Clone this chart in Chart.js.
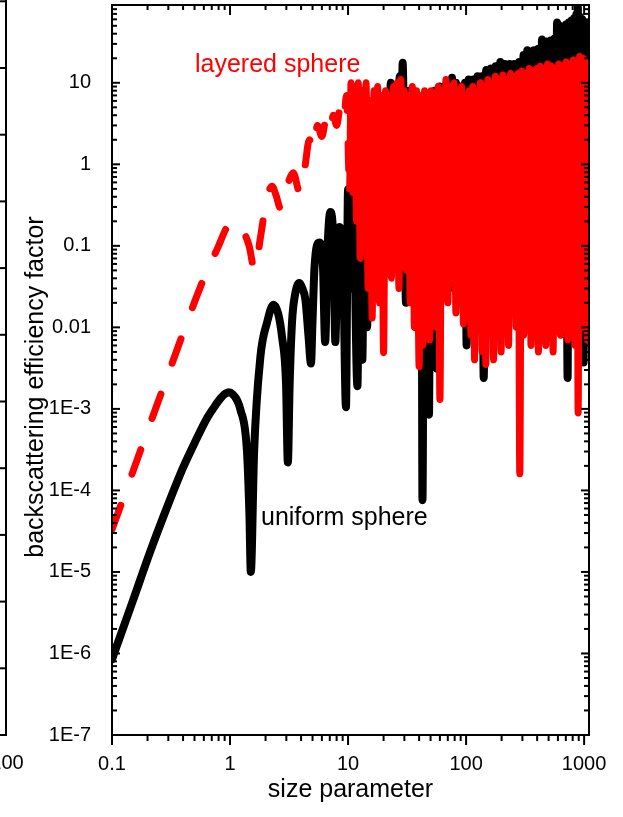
<!DOCTYPE html>
<html>
<head>
<meta charset="utf-8">
<script src="https://cdn.jsdelivr.net/npm/chart.js@4"></script>
<style>
  body { margin: 0; background: #fff; }
</style>
</head>
<body>
<canvas id="chart" width="623" height="817"></canvas>
<script>
// uniform sphere (black, solid)
var uniformX = [
  0.1, 0.15, 0.21, 0.3, 0.4, 0.5, 0.645, 0.75, 0.83, 0.92, 0.98, 1.06, 1.14, 1.22, 1.39, 1.46, 1.5,
  1.6, 1.81, 2.06, 2.33, 2.55, 2.76, 2.98, 3.09, 3.2, 3.35, 3.57, 3.86, 4.1, 4.35, 4.63, 4.85,
  5.0, 5.2, 5.7, 6.1, 6.4, 6.7, 7.08, 7.55, 7.8, 8.1, 8.4, 9.0, 9.6, 10, 10.5, 11, 12,
  12.6, 13.2, 13.8, 14.5, 15.1, 15.8, 16.6, 17.4, 18.2, 19, 19.9, 20.8, 21.6, 22.3, 23, 23.9,
  25, 26.2, 27.4, 28.2, 29, 31, 32.9, 34.4, 36, 37.7, 39.5, 41, 41.8, 42.7, 44.3, 46, 47.3, 48.5,
  50, 52, 54, 56.8, 59.5, 62.2, 65, 68, 71.4, 74, 76, 79, 82, 86, 90, 94, 98, 101, 105, 110,
  115, 120, 125, 130, 136, 141, 148, 155, 162, 170, 178, 186, 195, 204, 213, 223, 234, 245,
  256, 268, 281, 294, 307, 322, 330, 345, 352, 360, 375, 390, 405, 420, 440, 460, 480, 500,
  520, 540, 560, 575, 590, 605, 620, 640, 660, 680, 700, 725, 740, 760, 780, 800, 820, 840,
  860, 875, 885, 900, 920, 945, 965, 990, 1010, 1030, 1050, 1070, 1090
];
var uniformY = [
  8.5e-7, 4.4e-6, 1.75e-5, 6.8e-5, 1.9e-4, 3.8e-4, 7.9e-4, 1.1e-3, 1.35e-3, 1.55e-3, 1.6e-3, 1.5e-3, 1.3e-3, 1e-3, 3.1e-4, 5e-5, 1e-5,
  3e-4, 4.4e-3, 0.0115, 0.019, 0.015, 7.6e-3, 2.1e-3, 2.2e-4, 2e-3, 0.0115, 0.026, 0.035, 0.03, 0.022, 7.6e-3, 3.6e-3,
  0.012, 0.055, 0.11, 0.068, 6.6e-3, 0.09, 0.26, 0.09, 6.6e-3, 0.068, 0.17, 0.11, 1.05e-3, 0.49, 0.03, 0.6, 1.9e-3,
  0.8, 0.004, 1.2, 0.01, 1.5, 0.03, 2, 0.05, 3, 0.04, 4, 0.08, 5, 0.17, 10, 0.3,
  8, 0.1, 12, 0.3, 17.6, 0.02, 8, 0.03, 7, 0.01, 6, 0.01, 5, 7.6e-5, 7, 0.03, 6, 8.5e-4,
  7, 0.05, 8, 3.1e-3, 9, 0.03, 9, 0.05, 10, 0.04, 11.5, 0.03, 10, 0.02, 9, 0.03, 10, 6e-3, 11, 0.02,
  11, 0.03, 12, 0.02, 12, 2.4e-3, 14.4, 0.02, 15, 0.03, 16, 0.02, 18, 0.04, 17, 0.02, 17, 0.03,
  17, 0.02, 18, 0.04, 22, 0.02, 25, 0.03, 24, 8.5e-3, 25, 0.03, 26, 0.02, 34, 0.03, 32, 0.02,
  33, 0.03, 35, 0.02, 55, 0.03, 50, 0.02, 48, 0.03, 52, 2.4e-3, 55, 0.02, 58, 0.03, 62, 0.02,
  70, 0.03, 85, 0.02, 65, 0.03, 60, 3.7e-3, 55, 0.02, 50, 0.03, 45
];

// layered sphere (red, dashed)
var layeredX = [
  0.1, 0.3, 0.6, 0.8, 0.92, 1.02, 1.15, 1.3, 1.45, 1.62, 1.8, 1.95, 2.15, 2.27, 2.45, 2.7, 3.0,
  3.43, 3.9, 4.3, 4.7, 5.1, 5.5, 6.0, 6.5, 7.0, 7.5, 8.0, 8.6, 9.2, 9.7,
  10.3, 10.6, 11, 11.4, 11.8, 12.2, 12.7, 13.2, 13.7, 14.2, 14.8, 15.4, 16, 16.6, 17.2, 17.8,
  18.5, 19.2, 20, 20.8, 21.6, 22.4, 23.3, 24.2, 25.1, 26, 27, 28, 29, 30, 31.2, 32.4, 33.6, 35,
  36.5, 38, 40, 41.5, 43, 44.5, 46, 47.5, 49, 50.5, 52, 54, 56, 58, 60, 62.5, 65, 67.5, 70, 73,
  76, 79, 82, 85, 88, 91.5, 95, 98.5, 102, 106, 110, 114, 118, 122, 127, 132, 137, 142, 147,
  153, 159, 165, 171, 177, 184, 191, 198, 205, 213, 221, 229, 238, 247, 256, 266, 276, 285,
  296, 307, 318, 330, 342, 355, 368, 382, 396, 410, 425, 440, 456, 473, 490, 508, 527, 546,
  566, 587, 608, 630, 653, 677, 702, 728, 755, 782, 810, 840, 870, 890, 915, 945, 975, 1005,
  1035, 1065, 1090
];
var layeredY = [
  3.3e-5, 2.7e-3, 0.04, 0.1, 0.16, 0.2, 0.19, 0.15, 0.1, 0.05, 0.12, 0.25, 0.48, 0.54, 0.42, 0.28, 0.5,
  0.79, 0.45, 0.9, 2, 1.5, 3, 2.2, 3.5, 2.5, 4, 3, 5, 3.5, 7,
  0.5, 10, 0.45, 9, 0.2, 10, 0.07, 8, 0.1, 10, 0.03, 6, 0.013, 8, 0.05, 9,
  0.02, 7, 4.9e-3, 8, 0.15, 7, 0.04, 9, 0.15, 10, 0.03, 11, 0.1, 8, 0.05, 7, 0.02, 9,
  0.01, 8, 3.3e-3, 7, 0.006, 8, 0.02, 7, 0.007, 8, 0.02, 6, 0.01, 9, 1.3e-3, 8, 0.03, 11, 0.02, 9,
  0.035, 10, 0.015, 8, 0.03, 9, 0.011, 7, 0.02, 8, 0.008, 9, 0.004, 8, 0.015, 10, 0.005, 9, 0.0035,
  11, 0.01, 10, 0.004, 12, 0.02, 11, 0.005, 12.5, 0.012, 11, 0.006, 13, 0.02, 12, 0.01, 13, 1.6e-4,
  14, 0.008, 13, 0.015, 15, 0.006, 14, 0.02, 15, 0.005, 16, 0.015, 15, 0.006, 17, 0.02, 16, 0.005,
  15, 0.015, 17, 0.008, 16, 0.02, 18, 0.007, 17, 0.015, 19, 0.006, 18, 8.9e-4, 21, 0.01, 20, 0.015,
  19, 0.007, 18
];

var xTicks = [0.1, 1, 10, 100, 1000];
var yTicks = [1e-7, 1e-6, 1e-5, 1e-4, 1e-3, 0.01, 0.1, 1, 10];

var fontFamily = '"Liberation Sans", Arial, sans-serif';
Chart.defaults.font.family = fontFamily;
Chart.defaults.color = '#000';

function pairs(xs, ys) {
  return xs.map(function (x, i) { return { x: x, y: ys[i] }; });
}

function logValues(min, max) {
  var out = [];
  for (var e = Math.floor(Math.log10(min)); e <= Math.ceil(Math.log10(max)); e++) {
    for (var k = 1; k <= 9; k++) {
      var v = k * Math.pow(10, e);
      if (v >= min * 0.999 && v <= max * 1.001) out.push({ v: v, major: k === 1 });
    }
  }
  return out;
}

function line(ctx, x1, y1, x2, y2) {
  ctx.beginPath();
  ctx.moveTo(x1, y1);
  ctx.lineTo(x2, y2);
  ctx.stroke();
}

var framePlugin = {
  id: 'frame',
  afterDatasetsDraw: function (chart) {
    var ctx = chart.ctx, a = chart.chartArea;
    var xs = chart.scales.x, ys = chart.scales.y;
    ctx.save();
    ctx.strokeStyle = '#000';
    ctx.lineWidth = 2;
    ctx.strokeRect(a.left, a.top, a.right - a.left, a.bottom - a.top);
    logValues(xs.min, xs.max).forEach(function (t) {
      var px = xs.getPixelForValue(t.v);
      line(ctx, px, a.bottom, px, a.bottom + (t.major ? 10 : 6));
      line(ctx, px, a.top, px, a.top + (t.major ? 10 : 5));
    });
    logValues(ys.min, ys.max).forEach(function (t) {
      var py = ys.getPixelForValue(t.v);
      var len = t.major ? 8 : 5;
      line(ctx, a.left, py, a.left + len, py);
      line(ctx, a.right, py, a.right - len, py);
    });

    // edge of the neighbouring panel on the left
    line(ctx, 6, 0, 6, a.bottom + 1);
    line(ctx, 0, a.bottom, 6, a.bottom);
    for (var i = 1; i <= 11; i++) {
      var ty = a.bottom - i * 66.7;
      line(ctx, 0, ty, 6, ty);
    }
    ctx.fillStyle = '#000';
    ctx.font = '20px ' + fontFamily;
    ctx.textAlign = 'center';
    ctx.textBaseline = 'middle';
    ctx.fillText('100', 7, 763);

    // axis titles and curve labels
    ctx.font = '25px ' + fontFamily;
    ctx.textBaseline = 'alphabetic';
    ctx.fillText('size parameter', (a.left + a.right) / 2, 797);
    ctx.save();
    ctx.translate(43, 387);
    ctx.rotate(-Math.PI / 2);
    ctx.fillText('backscattering efficiency factor', 0, 0);
    ctx.restore();
    ctx.textAlign = 'left';
    ctx.fillText('uniform sphere', 261, 525);
    ctx.fillStyle = '#ff0000';
    ctx.fillText('layered sphere', 195, 72);
    ctx.restore();
  }
};

var ctx = document.getElementById('chart').getContext('2d');
var backscatterChart = new Chart(ctx, {
  type: 'line',
  data: {
    datasets: [
      {
        label: 'layered sphere',
        data: pairs(layeredX, layeredY),
        borderColor: '#ff0000',
        borderWidth: 7,
        borderCapStyle: 'round',
        borderJoinStyle: 'round',
        borderDash: [26, 33],
        segment: {
          // dashes only where the curve is still smooth; the dense part reads as solid
          borderDash: function (c) { return c.p0.parsed.x >= 10 ? [] : [26, 33]; }
        },
        cubicInterpolationMode: 'monotone',
        pointRadius: 0,
        order: 1
      },
      {
        label: 'uniform sphere',
        data: pairs(uniformX, uniformY),
        borderColor: '#000000',
        borderWidth: 8,
        borderCapStyle: 'round',
        borderJoinStyle: 'round',
        cubicInterpolationMode: 'monotone',
        pointRadius: 0,
        order: 2
      }
    ]
  },
  options: {
    responsive: false,
    animation: false,
    layout: { padding: { top: 5, right: 34, left: 0, bottom: 0 } },
    plugins: {
      legend: { display: false },
      tooltip: { enabled: false }
    },
    scales: {
      x: {
        type: 'logarithmic',
        min: 0.1,
        max: 1100,
        grid: { display: false },
        border: { display: false },
        afterBuildTicks: function (scale) {
          scale.ticks = xTicks.map(function (v) { return { value: v }; });
        },
        afterFit: function (scale) {
          scale.height = 82;
          scale.paddingLeft = 0;
          scale.paddingRight = 0;
        },
        ticks: {
          autoSkip: false,
          maxRotation: 0,
          padding: 9,
          font: { size: 20 },
          callback: function (v) { return String(v); }
        }
      },
      y: {
        type: 'logarithmic',
        min: 1e-7,
        max: 90,
        grid: { display: false },
        border: { display: false },
        afterBuildTicks: function (scale) {
          scale.ticks = yTicks.map(function (v) { return { value: v }; });
        },
        afterFit: function (scale) {
          scale.width = 112;
          scale.paddingTop = 0;
          scale.paddingBottom = 0;
        },
        ticks: {
          autoSkip: false,
          padding: 13,
          font: { size: 20 },
          callback: function (v) {
            if (v >= 0.01) return String(v);
            return '1E' + Math.round(Math.log10(v));
          }
        }
      }
    }
  },
  plugins: [framePlugin]
});
</script>
</body>
</html>
